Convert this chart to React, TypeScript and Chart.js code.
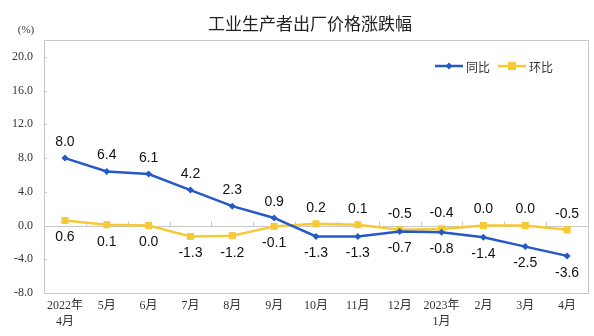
import React, { useEffect, useRef } from "react";
import { Chart, registerables } from "chart.js";

Chart.register(...registerables);

const categories: (string | string[])[] = [
  ["2022年", "4月"], "5月", "6月", "7月", "8月", "9月", "10月", "11月", "12月", ["2023年", "1月"], "2月", "3月", "4月",
];
const yoyValues = [8.0, 6.4, 6.1, 4.2, 2.3, 0.9, -1.3, -1.3, -0.7, -0.8, -1.4, -2.5, -3.6];
const momValues = [0.6, 0.1, 0.0, -1.3, -1.2, -0.1, 0.2, 0.1, -0.5, -0.4, 0.0, 0.0, -0.5];
const seriesNames = ["同比", "环比"];
const titleText = "工业生产者出厂价格涨跌幅";
const unitText = "(%)";

const BLUE = "#2559c8";
const YELLOW = "#f6c935";

const decorPlugin = {
  id: "decor",
  beforeDatasetsDraw(chart: any) {
    const { ctx, chartArea } = chart;
    const { left, right, top, bottom } = chartArea;
    const ys = chart.scales.y;
    const xs = chart.scales.x;
    ctx.save();
    ctx.strokeStyle = "#c8c8c8";
    ctx.lineWidth = 1;
    ctx.strokeRect(Math.round(left) + 0.5, Math.round(top) + 0.5, Math.round(right - left), Math.round(bottom - top));
    const y0 = Math.round(ys.getPixelForValue(0)) + 0.5;
    ctx.beginPath();
    ctx.moveTo(left, y0);
    ctx.lineTo(right, y0);
    ctx.stroke();
    ys.ticks.forEach((t: any) => {
      if (t.value > 20) return;
      const yy = Math.round(ys.getPixelForValue(t.value)) + 0.5;
      ctx.beginPath();
      ctx.moveTo(left, yy);
      ctx.lineTo(left + 3, yy);
      ctx.stroke();
    });
    const n = categories.length;
    for (let i = 1; i < n; i++) {
      const xx = Math.round((xs.getPixelForValue(i - 1) + xs.getPixelForValue(i)) / 2) + 0.5;
      ctx.beginPath();
      ctx.moveTo(xx, y0);
      ctx.lineTo(xx, y0 - 5);
      ctx.stroke();
    }
    ctx.restore();
  },
  afterDatasetsDraw(chart: any) {
    const { ctx } = chart;
    const xs = chart.scales.x;
    const ys = chart.scales.y;
    ctx.save();
    ctx.font = "14px 'Liberation Sans', Arial, sans-serif";
    ctx.fillStyle = "#111";
    ctx.textAlign = "center";
    ctx.textBaseline = "middle";
    for (let i = 0; i < categories.length; i++) {
      const a = yoyValues[i];
      const b = momValues[i];
      const x = xs.getPixelForValue(i);
      const hi = Math.max(a, b);
      const lo = Math.min(a, b);
      ctx.fillText(hi.toFixed(1), x, ys.getPixelForValue(hi) - 16);
      ctx.fillText(lo.toFixed(1), x, ys.getPixelForValue(lo) + 17);
    }
    ctx.font = "17px 'Noto Sans CJK SC', sans-serif";
    ctx.fillStyle = "#222";
    ctx.fillText(titleText, 310, 24);
    ctx.font = "11px 'Liberation Serif', serif";
    ctx.fillStyle = "#333";
    ctx.fillText(unitText, 26, 30);
    const ly = 66;
    ctx.lineWidth = 2.5;
    ctx.strokeStyle = BLUE;
    ctx.beginPath();
    ctx.moveTo(435, ly);
    ctx.lineTo(463, ly);
    ctx.stroke();
    ctx.fillStyle = BLUE;
    ctx.beginPath();
    ctx.moveTo(449, ly - 3.5);
    ctx.lineTo(452.5, ly);
    ctx.lineTo(449, ly + 3.5);
    ctx.lineTo(445.5, ly);
    ctx.closePath();
    ctx.fill();
    ctx.strokeStyle = YELLOW;
    ctx.beginPath();
    ctx.moveTo(498, ly);
    ctx.lineTo(526, ly);
    ctx.stroke();
    ctx.fillStyle = YELLOW;
    ctx.fillRect(508, ly - 4, 8, 8);
    ctx.font = "12px 'Noto Sans CJK SC', sans-serif";
    ctx.fillStyle = "#333";
    ctx.textAlign = "left";
    ctx.fillText(seriesNames[0], 466, ly + 1);
    ctx.fillText(seriesNames[1], 529, ly + 1);
    ctx.restore();
  },
};

export default function App() {
  const ref = useRef<HTMLCanvasElement | null>(null);
  useEffect(() => {
    if (!ref.current) return;
    const chart = new Chart(ref.current, {
      type: "line",
      data: {
        labels: categories as any,
        datasets: [
          {
            label: seriesNames[0],
            data: yoyValues,
            borderColor: BLUE,
            backgroundColor: BLUE,
            borderWidth: 2.5,
            pointStyle: "rectRot",
            pointRadius: 3.5,
            pointBorderWidth: 0,
            tension: 0,
          },
          {
            label: seriesNames[1],
            data: momValues,
            borderColor: YELLOW,
            backgroundColor: YELLOW,
            borderWidth: 2.5,
            pointStyle: "rect",
            pointRadius: 5,
            pointBorderWidth: 0,
            tension: 0,
          },
        ],
      },
      options: {
        animation: false,
        responsive: false,
        maintainAspectRatio: false,
        layout: { padding: { top: 40, right: 6, left: 0, bottom: 0 } },
        plugins: { legend: { display: false }, title: { display: false }, tooltip: { enabled: false } },
        scales: {
          x: {
            type: "category",
            offset: true,
            grid: { display: false, drawTicks: false },
            border: { display: false },
            ticks: {
              autoSkip: false,
              maxRotation: 0,
              padding: 5,
              color: "#333",
              font: { family: "'Liberation Serif', 'Noto Sans CJK SC', serif", size: 12, lineHeight: 1.35 },
            },
            afterFit: (s: any) => {
              s.height = 43;
            },
          },
          y: {
            min: -8,
            max: 22,
            grid: { display: false, drawTicks: false },
            border: { display: false },
            ticks: {
              stepSize: 4,
              padding: 11,
              color: "#333",
              font: { family: "'Liberation Serif', serif", size: 12 },
              callback: (v: any) => (Number(v) > 20 ? "" : Number(v).toFixed(1)),
            },
            afterFit: (s: any) => {
              s.width = 44;
            },
          },
        },
      },
      plugins: [decorPlugin],
    });
    return () => chart.destroy();
  }, []);
  return (
    <div style={{ position: "fixed", left: 0, top: 0, width: 594, height: 336, background: "#fff" }}>
      <canvas ref={ref} width={594} height={336} style={{ width: 594, height: 336 }} />
    </div>
  );
}
